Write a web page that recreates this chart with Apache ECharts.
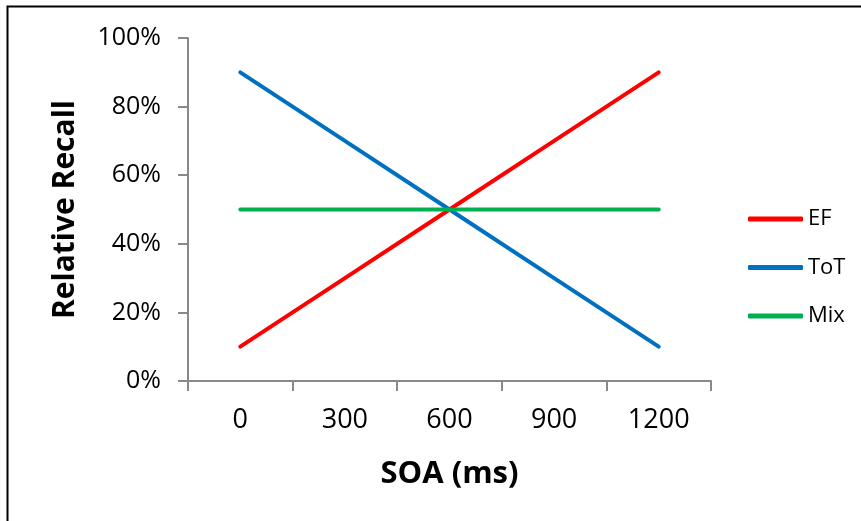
<!DOCTYPE html>
<html>
<head>
<meta charset="utf-8">
<script src="https://cdn.jsdelivr.net/npm/echarts@6/dist/echarts.min.js"></script>
<style>
html,body{margin:0;padding:0;background:#fff;}
#c{width:861px;height:521px;}
</style>
</head>
<body>
<div id="c"></div>
<script>
const categories = ['0', '300', '600', '900', '1200'];
const efValues = [0.10, 0.30, 0.50, 0.70, 0.90];
const totValues = [0.90, 0.70, 0.50, 0.30, 0.10];
const mixValues = [0.50, 0.50, 0.50, 0.50, 0.50];
const seriesNames = ['EF', 'ToT', 'Mix'];
const seriesColors = ['#FF0000', '#0070C0', '#00B050'];

const font = 'Open Sans';
const chart = echarts.init(document.getElementById('c'));
const allValues = [efValues, totValues, mixValues];
chart.setOption({
  animation: false,
  backgroundColor: '#fff',
  textStyle: { fontFamily: font },
  grid: { left: 188, right: 150, top: 38, bottom: 140, containLabel: false },
  legend: {
    orient: 'vertical',
    left: 748,
    top: 206,
    padding: 0,
    icon: 'roundRect',
    itemWidth: 55,
    itemHeight: 5,
    itemGap: 22.5,
    textStyle: { fontFamily: font, fontSize: 22, color: '#000', lineHeight: 26 },
    data: seriesNames
  },
  xAxis: {
    type: 'category',
    data: categories,
    boundaryGap: true,
    name: 'SOA (ms)',
    nameLocation: 'middle',
    nameGap: 78,
    nameTextStyle: { fontFamily: font, fontSize: 31, fontWeight: 'bold', color: '#000' },
    axisLine: { lineStyle: { color: '#898989', width: 2 } },
    axisTick: { show: true, length: 10, inside: false, alignWithLabel: false, lineStyle: { color: '#898989', width: 2 } },
    axisLabel: { fontFamily: font, fontSize: 27, color: '#000', margin: 26 },
    splitLine: { show: false }
  },
  yAxis: {
    type: 'value',
    min: 0,
    max: 1,
    interval: 0.2,
    name: 'Relative Recall',
    nameLocation: 'middle',
    nameGap: 108,
    nameTextStyle: { fontFamily: font, fontSize: 30, fontWeight: 'bold', color: '#000' },
    axisLine: { show: true, lineStyle: { color: '#898989', width: 2 } },
    axisTick: { show: true, length: 10, lineStyle: { color: '#898989', width: 2 } },
    axisLabel: { fontFamily: font, fontSize: 25, color: '#000', margin: 27,
      formatter: v => Math.round(v * 100) + '%' },
    splitLine: { show: false }
  },
  series: seriesNames.map((n, i) => ({
    name: n,
    type: 'line',
    data: allValues[i],
    symbol: 'none',
    color: seriesColors[i],
    lineStyle: { width: 4, color: seriesColors[i], cap: 'round' },
    itemStyle: { color: seriesColors[i] }
  })),
  graphic: [{
    type: 'polyline',
    shape: { points: [[7.5, 521], [7.5, 6.5], [861, 6.5]] },
    style: { stroke: '#000', lineWidth: 2, fill: null },
    silent: true
  }]
});
</script>
</body>
</html>
